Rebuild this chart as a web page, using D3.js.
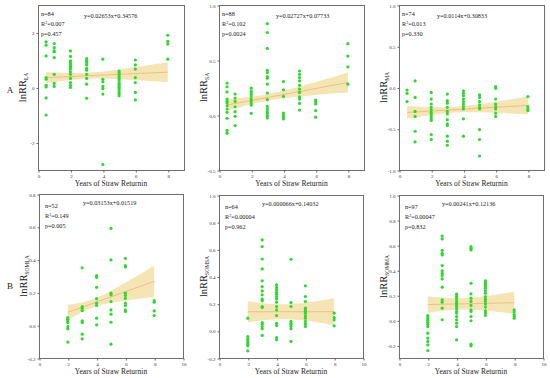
<!DOCTYPE html>
<html><head><meta charset="utf-8">
<script src="https://cdn.jsdelivr.net/npm/d3@7"></script>
<style>body{margin:0;background:#fff} svg{display:block}</style>
</head><body><svg id="c" width="550" height="378"></svg>
<script>
// ---------- data ----------
const subscripts = ["LA", "SA", "MA", "SOMLA", "SOMSA", "SOMMA"];
const xTitle = "Years of Straw Returnin";
const rowLetters = ["A", "B"];

// points: [year, [lnRR values]]
const ptsLA = [
  [0.5, [1.66, 1.54, 1.15, 0.36, 0.30, 0.08, 0.02, -0.38, -1.0]],
  [1, [1.6, 1.45, 1.33, 1.30, 1.09, 0.48, 0.15, 0.04]],
  [2, [1.33, 1.13, 0.97, 0.91, 0.85, 0.79, 0.73, 0.67, 0.57, 0.48, 0.33, 0.18, 0.08, 0.0]],
  [3, [1.05, 0.97, 0.91, 0.82, 0.70, 0.63, 0.48, 0.33, 0.12, -0.39]],
  [4, [1.03, 0.30, 0.21, 0.04, -0.04, -0.24, -2.8]],
  [5, [0.6, 0.55, 0.48, 0.4, 0.33, 0.27, 0.18, 0.12, 0.06, 0.0, -0.06, -0.15, -0.22, -0.30]],
  [6, [1.0, 0.82, 0.67, 0.36, 0.18, -0.18, -0.45]],
  [8, [1.9, 1.68, 1.58, 1.03]]
];
const ptsSA = [
  [0.5, [0.29, 0.256, 0.21, 0.145, 0.124, 0.108, 0.084, 0.054, 0.024, -0.03, -0.14, -0.165]],
  [1, [0.19, 0.154, 0.124, 0.075, 0.03, -0.012, -0.096]],
  [2, [0.244, 0.214, 0.196, 0.175, 0.15, 0.13, 0.108, 0.09, 0.015]],
  [3, [0.83, 0.75, 0.605, 0.407, 0.386, 0.35, 0.334, 0.28, 0.2, 0.139, 0.078, 0.054, 0.03, 0.015, -0.006, -0.027]],
  [4, [0.304, 0.229, 0.169, 0.018, 0.0, -0.021, -0.036]],
  [5, [0.4, 0.37, 0.34, 0.31, 0.27, 0.235, 0.205, 0.166, 0.145, 0.105, 0.045]],
  [6, [0.136, 0.12, 0.1, 0.04, -0.02]],
  [8, [0.648, 0.536, 0.437, 0.28]]
];
const ptsMA = [
  [0.5, [-0.03, -0.07, -0.17]],
  [1, [0.08, -0.12, -0.29, -0.35, -0.53, -0.66]],
  [2, [-0.06, -0.14, -0.2, -0.24, -0.27, -0.3, -0.32, -0.35, -0.38, -0.4, -0.57, -0.63]],
  [3, [-0.08, -0.16, -0.19, -0.24, -0.29, -0.32, -0.39, -0.44, -0.46, -0.59, -0.65, -0.7]],
  [4, [-0.04, -0.07, -0.1, -0.14, -0.17, -0.2, -0.23, -0.26, -0.38, -0.59]],
  [5, [-0.09, -0.12, -0.17, -0.21, -0.24, -0.26, -0.51, -0.63, -0.83]],
  [6, [0.01, -0.01, -0.14, -0.2, -0.23, -0.26, -0.31, -0.35]],
  [8, [-0.11, -0.23, -0.26, -0.28]]
];
const ptsSOMLA = [
  [2, [0.047, 0.037, 0.026, 0.016, -0.008, -0.022, -0.103]],
  [3, [0.35, 0.114, 0.103, 0.089, 0.026, 0.016, -0.055, -0.083]],
  [4, [0.302, 0.292, 0.231, 0.162, 0.134, 0.12, 0.043, 0.002]],
  [5, [0.59, 0.398, 0.195, 0.185, 0.144, 0.093, 0.067, 0.018, -0.116]],
  [6, [0.408, 0.363, 0.355, 0.195, 0.181, 0.164, 0.134, 0.12, 0.093, 0.083]],
  [8, [0.15, 0.14, 0.087, 0.059]]
];
const ptsSOMSA = [
  [2, [0.093, -0.042, -0.061, -0.074, -0.086, -0.098, -0.11, -0.147]],
  [3, [0.669, 0.62, 0.529, 0.456, 0.368, 0.326, 0.294, 0.265, 0.233, 0.221, 0.179, 0.172, 0.061, 0.049, 0.032, 0.015, -0.034]],
  [4, [0.338, 0.319, 0.301, 0.284, 0.27, 0.252, 0.235, 0.211, 0.179, 0.154, 0.113, 0.056, 0.039, -0.049, -0.066]],
  [5, [0.527, 0.208, 0.179, 0.069, 0.056, 0.044, 0.032, 0.015, -0.078]],
  [6, [0.331, 0.252, 0.216, 0.167, 0.154, 0.142, 0.13, 0.11, 0.093, 0.069, 0.049, 0.032]],
  [8, [0.13, 0.098, 0.081, 0.037]]
];
const ptsSOMMA = [
  [2, [0.039, 0.026, 0.012, -0.001, -0.014, -0.03, -0.049, -0.102, -0.141, -0.168, -0.195, -0.24]],
  [3, [0.673, 0.65, 0.559, 0.535, 0.522, 0.437, 0.395, 0.376, 0.358, 0.331, 0.265, 0.164, 0.145, 0.097, 0.005]],
  [4, [0.209, 0.19, 0.172, 0.151, 0.137, 0.124, 0.111, 0.092, 0.071, 0.058, 0.031, 0.005, -0.022, -0.049, -0.155]],
  [5, [0.588, 0.575, 0.562, 0.296, 0.212, 0.177, 0.151, 0.119, 0.084, 0.071, 0.031, -0.003, -0.19, -0.203]],
  [6, [0.315, 0.302, 0.289, 0.275, 0.257, 0.236, 0.217, 0.19, 0.169, 0.151, 0.13, 0.106, 0.076, 0.058, 0.039]],
  [8, [0.084, 0.066, 0.044, 0.031, 0.018]]
];
const allPoints = [ptsLA, ptsSA, ptsMA, ptsSOMLA, ptsSOMSA, ptsSOMMA];

const nLabels = ["n=84", "n=88", "n=74", "n=52", "n=64", "n=97"];
const r2Labels = ["=0.007", "=0.102", "=0.013", "=0.149", "=0.00004", "=0.00047"];
const pLabels = ["p=0.457", "p=0.0024", "p=0.330", "p=0.005", "p=0.962", "p=0.832"];
const eqLabels = ["y=0.02653x+0.34576", "y=0.02727x+0.07733", "y=0.0114x+0.30833",
                  "y=0.03153x+0.01519", "y=0.000066x+0.14032", "y=0.00241x+0.12136"];
const slopes = [0.02653, 0.02727, 0.0114, 0.03153, 0.000066, 0.00241];
const intercepts = [0.34576, 0.07733, -0.30833, 0.01519, 0.14032, 0.12136];
const fitRanges = [[0.5, 8], [0.5, 8], [0.5, 8], [2, 8], [2, 8], [2, 8]];
// confidence band half-width (hyperbolic shape)
const bandMin = [0.11, 0.03, 0.035, 0.025, 0.055, 0.045];
const bandCenter = [3, 3, 3.5, 3.75, 4.4, 4.3];
const bandSpread = [0.069, 0.017, 0.023, 0.0215, 0.023, 0.021];

const xDomains = [[0, 9], [0, 9], [0, 9], [0, 10], [0, 10], [0, 10]];
const xTicks = [[0, 2, 4, 6, 8], [0, 2, 4, 6, 8], [0, 2, 4, 6, 8],
                [0, 2, 4, 6, 8, 10], [0, 2, 4, 6, 8, 10], [0, 2, 4, 6, 8, 10]];
const yDomains = [[-3, 3], [-0.5, 1], [-1, 1], [-0.2, 0.8], [-0.2, 1], [-0.3, 1]];
const yTicks = [[-2, 0, 2], [-0.5, 0, 0.5, 1], [-1, -0.5, 0, 0.5, 1],
                [-0.2, 0, 0.2, 0.4, 0.6, 0.8], [-0.2, 0, 0.2, 0.4, 0.6, 0.8, 1],
                [-0.2, 0, 0.2, 0.4, 0.6, 0.8, 1]];
const yFormats = ["d", ".1f", ".1f", ".1f", ".1f", ".1f"];

// ---------- layout ----------
const boxes = [
  {l: 38, r: 184, t: 5, b: 170},
  {l: 219, r: 364, t: 5, b: 170},
  {l: 399, r: 544, t: 5, b: 170},
  {l: 39, r: 183, t: 194, b: 358},
  {l: 219, r: 363, t: 195, b: 358},
  {l: 399, r: 543, t: 195, b: 358}
];
const serif = "'Liberation Serif', 'DejaVu Serif', serif";
const green = "#2fd82f";
const svg = d3.select("#c");

boxes.forEach((bx, i) => {
  const x = d3.scaleLinear().domain(xDomains[i]).range([bx.l, bx.r]);
  const y = d3.scaleLinear().domain(yDomains[i]).range([bx.b, bx.t]);
  const g = svg.append("g");

  // band
  const [x0, x1] = fitRanges[i];
  const xs = d3.range(0, 41).map(k => x0 + (x1 - x0) * k / 40);
  const fit = v => slopes[i] * v + intercepts[i];
  const hw = v => Math.sqrt(bandMin[i] ** 2 + (bandSpread[i] * (v - bandCenter[i])) ** 2);
  g.append("path")
    .attr("d", d3.area().x(v => x(v)).y0(v => y(fit(v) - hw(v))).y1(v => y(fit(v) + hw(v)))(xs))
    .attr("fill", "#f2dc9c").attr("fill-opacity", 0.75);
  g.append("path")
    .attr("d", d3.line().x(v => x(v)).y(v => y(fit(v)))([x0, x1]))
    .attr("stroke", "#e9b77a").attr("stroke-width", 0.8).attr("fill", "none");

  // points
  const flat = allPoints[i].flatMap(([yr, vals]) => vals.map(v => ({yr, v})));
  g.selectAll("circle").data(flat).join("circle")
    .attr("cx", d => x(d.yr)).attr("cy", d => y(d.v)).attr("r", 1.6)
    .attr("fill", green);

  // frame
  g.append("rect").attr("x", bx.l + 0.5).attr("y", bx.t + 0.5)
    .attr("width", bx.r - bx.l).attr("height", bx.b - bx.t)
    .attr("fill", "none").attr("stroke", "#6e6e6e").attr("stroke-width", 1);

  // axes
  const fmt = d3.format(yFormats[i]);
  const xa = g.append("g").attr("transform", `translate(0.5,${bx.b + 0.5})`)
    .call(d3.axisBottom(x).tickValues(xTicks[i]).tickSize(2).tickPadding(2).tickFormat(d3.format("d")));
  const ya = g.append("g").attr("transform", `translate(${bx.l + 0.5},0.5)`)
    .call(d3.axisLeft(y).tickValues(yTicks[i]).tickSize(2).tickPadding(2)
      .tickFormat(d => fmt(d).replace("\u2212", "-")));
  [xa, ya].forEach(a => {
    a.select(".domain").remove();
    a.selectAll("line").attr("stroke", "#666");
    a.selectAll("text").attr("font-family", serif).attr("font-size", 5).attr("fill", "#333");
  });

  // titles
  g.append("text").attr("x", (bx.l + bx.r) / 2).attr("y", bx.b + 16)
    .attr("text-anchor", "middle").attr("font-family", serif).attr("font-size", 7.5)
    .attr("fill", "#222").text(xTitle);
  const yl = g.append("text")
    .attr("transform", `translate(${bx.l - 12},${(bx.t + bx.b) / 2}) rotate(-90)`)
    .attr("text-anchor", "middle").attr("font-family", serif).attr("font-size", 10.5).attr("fill", "#222");
  yl.append("tspan").text("lnRR");
  yl.append("tspan").attr("font-size", 5.5).attr("dy", 2).text(subscripts[i]);

  // annotations
  const ann = g.append("g").attr("font-family", serif).attr("font-size", 6.2).attr("fill", "#222");
  const ax = bx.l + (i < 3 ? 3 : 6);
  const ay = bx.t + (i < 3 ? 11 : 14);
  ann.append("text").attr("x", ax).attr("y", ay).text(nLabels[i]);
  const r2 = ann.append("text").attr("x", ax).attr("y", ay + 10);
  r2.append("tspan").text("R");
  r2.append("tspan").attr("font-size", 4).attr("dy", -2.5).text("2");
  r2.append("tspan").attr("dy", 2.5).text(r2Labels[i]);
  ann.append("text").attr("x", ax).attr("y", ay + 20).text(pLabels[i]);
  const eqOff = [46, 57, 38, 44, 43, 43];
  ann.append("text").attr("x", bx.l + eqOff[i]).attr("y", bx.t + (i < 3 ? 13 : 11)).text(eqLabels[i]);
});

// row letters
svg.selectAll("text.row").data(rowLetters).join("text").attr("class", "row")
  .attr("x", 10).attr("y", (d, k) => k === 0 ? 93 : 289)
  .attr("text-anchor", "middle").attr("font-family", serif).attr("font-size", 9)
  .attr("fill", "#222").text(d => d);
</script></body></html>
